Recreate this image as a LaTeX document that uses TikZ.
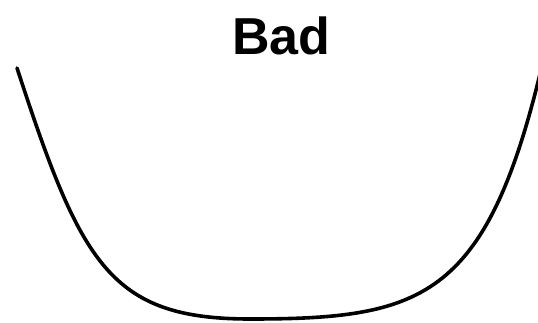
\documentclass[tikz,border=0pt]{standalone}
\usepackage{fontspec}
\setmainfont{Liberation Sans}
\tikzset{
    curva/.style={line width=3.6pt, line cap=round, black},
    titolo/.style={font=\bfseries\fontsize{52}{56}\selectfont, inner sep=0pt, anchor=base}
}
\begin{document}
\begin{tikzpicture}[x=1pt, y=-1pt]
    \useasboundingbox (0,0) rectangle (538,323);
    %titolo
    \node[titolo] (titolo) at (281.5,55) {Bad};
    %disegno curva
    \coordinate (sx) at (17,68);
    \coordinate (fondo) at (250,319);
    \coordinate (dx) at (540,74);
    \draw[curva] (sx)..controls (81,264) and (110,319).. (fondo)
        ..controls (420,319) and (485,300).. (dx);
\end{tikzpicture}
\end{document}
